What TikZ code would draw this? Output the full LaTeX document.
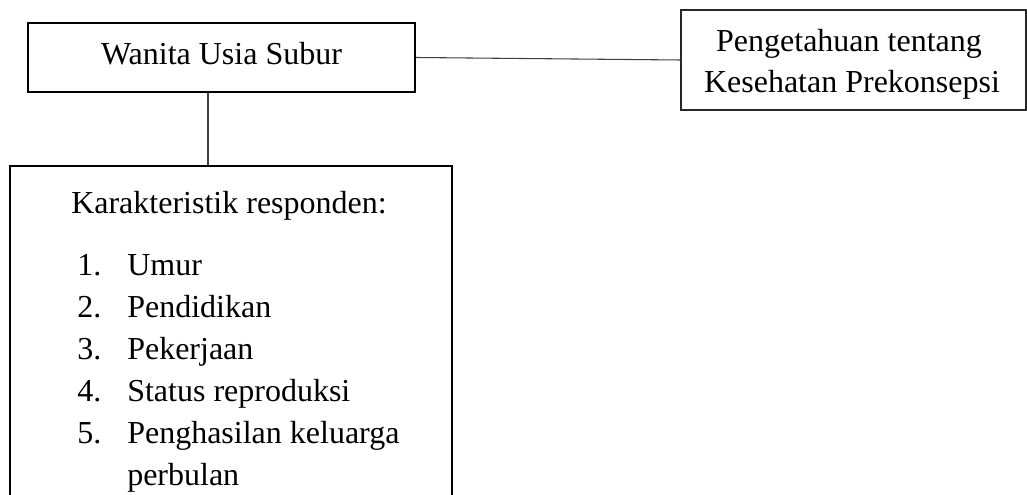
\documentclass[tikz,border=0pt]{standalone}
\usepackage{fontspec}
\setmainfont{Liberation Serif}
\begin{document}
\begin{tikzpicture}[x=0.75pt,y=-0.75pt,
  thickbox/.style={draw=black,line width=1.5pt,inner sep=0pt},
  thinbox/.style={draw=black!85,line width=0.8pt,inner sep=0pt},
  txt/.style={inner sep=0pt,font=\fontsize{24pt}{31.5pt}\selectfont},
  conn/.style={draw=black!75,line width=0.8pt}]
\useasboundingbox (0,0) rectangle (1027,495);
\clip (0,0) rectangle (1027,495);
% boxes
\node[thickbox,minimum width=290.25pt,minimum height=51.75pt] (wus) at (221.5,57.5) {};
\node[thinbox,minimum width=258.75pt,minimum height=75pt] (pk) at (853.5,60) {};
\node[thickbox,minimum width=331.5pt,minimum height=265.5pt] (kr) at (231,343) {};
% texts
\node[txt,anchor=base] (t1) at (221.5,65) {Wanita Usia Subur};
\node[txt,anchor=base] (t2a) at (849,52) {Pengetahuan tentang};
\node[txt,anchor=base] (t2b) at (852,93) {Kesehatan Prekonsepsi};
\node[txt,anchor=base] (t3) at (229,214) {Karakteristik responden:};
\node[txt,anchor=base west] (n1) at (77,275) {1.};
\node[txt,anchor=base west] (i1) at (127,275) {Umur};
\node[txt,anchor=base west] (n2) at (77,317) {2.};
\node[txt,anchor=base west] (i2) at (127,317) {Pendidikan};
\node[txt,anchor=base west] (n3) at (77,359) {3.};
\node[txt,anchor=base west] (i3) at (127,359) {Pekerjaan};
\node[txt,anchor=base west] (n4) at (77,401) {4.};
\node[txt,anchor=base west] (i4) at (127,401) {Status reproduksi};
\node[txt,anchor=base west] (n5) at (77,443) {5.};
\node[txt,anchor=base west] (i5) at (127,443) {Penghasilan keluarga};
\node[txt,anchor=base west] (i5b) at (127,485) {perbulan};
% connectors
\coordinate (vx) at (208,0);
\draw[conn] (wus.east) -- (pk.west);
\draw[conn] (wus.south -| vx) -- (kr.north -| vx);
\end{tikzpicture}
\end{document}
